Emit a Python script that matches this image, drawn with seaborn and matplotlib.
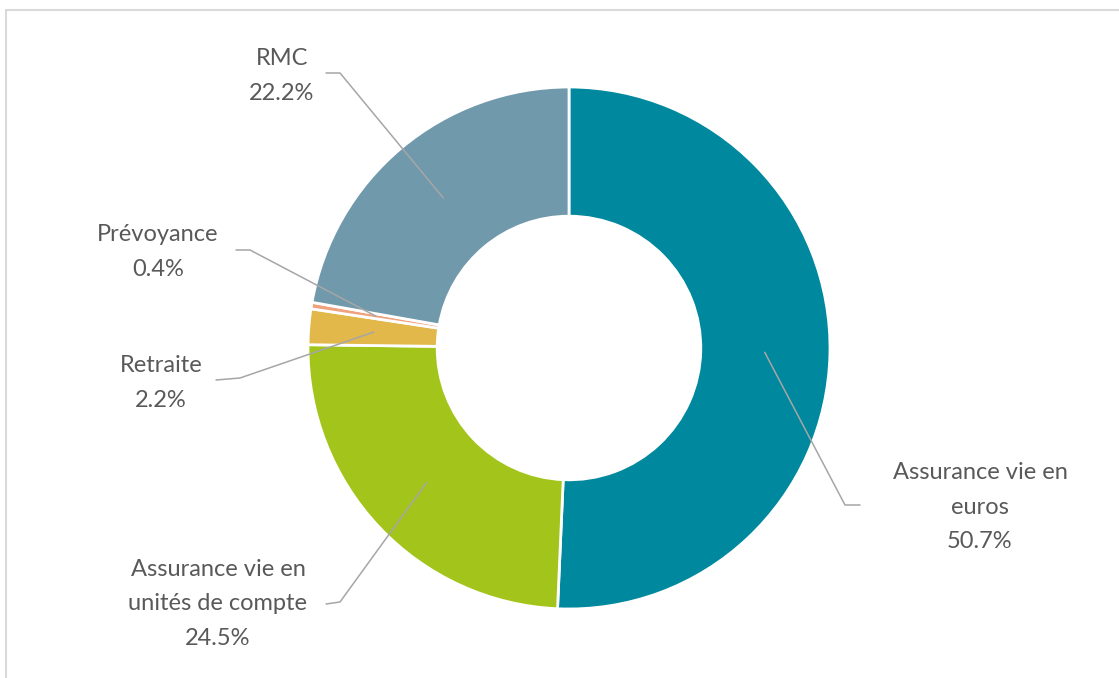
import matplotlib
matplotlib.use("Agg")
import matplotlib.pyplot as plt
import seaborn as sns
import numpy as np

# Répartition des encours
categories = ["Assurance vie en\neuros", "Assurance vie en\nunités de compte",
              "Retraite", "Prévoyance", "RMC"]
shares = [50.7, 24.5, 2.2, 0.4, 22.2]
colors = ["#00889F", "#A3C41A", "#E2B84B", "#EFA27E", "#7199AC"]

sns.set_theme(style="white")
plt.rcParams['font.family'] = ['Lato', 'DejaVu Sans']

W, H = 1119, 678
fig = plt.figure(figsize=(W / 100, H / 100), dpi=100)
ax = fig.add_axes([0, 0, 1, 1])

# pixel-like coordinates, y pointing down
cx, cy, R = 569, 348, 261
ax.pie(shares, colors=colors, radius=R, center=(cx, cy), startangle=-90,
       counterclock=True, wedgeprops=dict(width=R * 0.495, edgecolor="white", linewidth=2))
ax.set_xlim(0, W)
ax.set_ylim(H, 0)
ax.set_aspect("equal")
ax.axis("off")

# label layout: text centre, leader line start (elbow)
layout = {
    "RMC": dict(text=(282, 76), elbow=[(326, 73), (340, 73)]),
    "Prévoyance": dict(text=(158, 252), elbow=[(236, 250), (250, 250)]),
    "Retraite": dict(text=(161, 383), elbow=[(216, 380), (240, 378)]),
    "Assurance vie en\neuros": dict(text=(980, 507), elbow=[(860, 505), (845, 505)]),
    "Assurance vie en\nunités de compte": dict(text=(218, 604), elbow=[(326, 604), (340, 602)]),
}

cum = np.cumsum([0] + shares[:-1])
r_mid = R * 0.75
for cat, val, c0 in zip(categories, shares, cum):
    mid = np.deg2rad(-90 + 360 * (c0 + val / 2) / 100)
    px, py = cx + r_mid * np.cos(mid), cy + r_mid * np.sin(mid)
    lay = layout[cat]
    xs = [p[0] for p in lay["elbow"]] + [px]
    ys = [p[1] for p in lay["elbow"]] + [py]
    ax.plot(xs, ys, color="#A6A6A6", lw=1.1, zorder=3)
    tx, ty = lay["text"]
    ax.text(tx, ty, f"{cat}\n{val:.1f}%", ha="center", va="center",
            fontsize=17, color="#595959", linespacing=1.8, zorder=4)

# light frame (left and top edges)
ax.plot([6, 6, W + 5], [H + 5, 10, 10], color="#D9D9D9", lw=1.5, clip_on=False)

fig.savefig("out.png", dpi=100)
